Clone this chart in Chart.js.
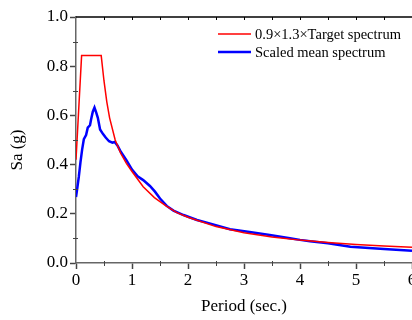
<!DOCTYPE html>
<html>
<head>
<meta charset="utf-8">
<script src="https://cdn.jsdelivr.net/npm/chart.js@4"></script>
<style>
    body { margin: 0; background: #fff; overflow: hidden; }
    #wrap { width: 412px; height: 320px; position: relative; }
</style>
</head>
<body>
<div id="wrap"><canvas id="specChart"></canvas></div>
<script>
// Дані
const targetPeriods = [0, 0.1, 0.45, 0.5, 0.55, 0.6, 0.7, 0.8, 0.9, 1.0, 1.2, 1.4, 1.6, 1.8, 2.0, 2.5, 3.0, 3.5, 4.0, 4.5, 5.0, 5.5, 6.0];
const targetSa = [0.42, 0.843, 0.843, 0.74, 0.655, 0.59, 0.5, 0.445, 0.405, 0.372, 0.31, 0.266, 0.233, 0.205, 0.186, 0.148, 0.123, 0.106, 0.093, 0.083, 0.075, 0.069, 0.064];

const meanPeriods = [0, 0.02, 0.05, 0.08, 0.11, 0.14, 0.18, 0.21, 0.25, 0.27, 0.3, 0.33, 0.36, 0.39, 0.43, 0.48, 0.53, 0.59, 0.65, 0.69, 0.74, 0.8, 0.9, 1.0, 1.1, 1.2, 1.32, 1.41, 1.5, 1.62, 1.74, 1.92, 2.16, 2.4, 2.75, 3.1, 3.46, 3.82, 4.0, 4.18, 4.5, 4.9, 5.5, 6.0];
const meanSa = [0.268, 0.3, 0.35, 0.41, 0.462, 0.503, 0.52, 0.55, 0.56, 0.584, 0.615, 0.632, 0.612, 0.59, 0.543, 0.525, 0.51, 0.495, 0.489, 0.492, 0.478, 0.452, 0.418, 0.38, 0.352, 0.337, 0.313, 0.29, 0.262, 0.232, 0.213, 0.195, 0.175, 0.16, 0.137, 0.126, 0.114, 0.101, 0.094, 0.088, 0.08, 0.066, 0.057, 0.05];

const seriesLabels = ['0.9×1.3×Target spectrum', 'Scaled mean spectrum'];
const xTicks = [0, 1, 2, 3, 4, 5, 6];
const yTicks = [0, 0.2, 0.4, 0.6, 0.8, 1.0];
const xTitle = 'Period (sec.)';
const yTitle = 'Sa (g)';

const FONT = "'Liberation Serif', 'Times New Roman', serif";

function toPoints(xs, ys) {
    return xs.map((x, i) => ({ x: x, y: ys[i] }));
}

// Рамка, дрібні поділки, легенда і підпис осі Y
const framePlugin = {
    id: 'frame',
    afterDraw(chart) {
        const { ctx, chartArea: a, scales: { x, y } } = chart;
        ctx.save();
        // верхня лінія рамки
        ctx.strokeStyle = '#000';
        ctx.lineWidth = 1.5;
        ctx.beginPath();
        ctx.moveTo(a.left, a.top);
        ctx.lineTo(a.right + 2, a.top);
        ctx.stroke();
        ctx.lineWidth = 1;
        ctx.beginPath();
        for (let v = 0.5; v < 6; v += 0.5) {
            const px = Math.round(x.getPixelForValue(v)) + 0.5;
            ctx.moveTo(px, a.top);
            ctx.lineTo(px, a.top + 3);
        }
        ctx.stroke();
        // дрібні поділки
        ctx.strokeStyle = '#444';
        ctx.beginPath();
        for (let v = 0.1; v < 1; v += 0.2) {
            const py = Math.round(y.getPixelForValue(v)) + 0.5;
            ctx.moveTo(a.left - 3, py);
            ctx.lineTo(a.left + 2, py);
        }
        for (let v = 0.5; v < 6; v += 1) {
            const px = Math.round(x.getPixelForValue(v)) + 0.5;
            ctx.moveTo(px, a.bottom - 2);
            ctx.lineTo(px, a.bottom + 3);
        }
        ctx.stroke();
        // легенда
        ctx.font = '14.5px ' + FONT;
        ctx.textBaseline = 'middle';
        ctx.fillStyle = '#000';
        chart.data.datasets.forEach((ds, i) => {
            const ly = 34 + i * 18;
            ctx.strokeStyle = ds.borderColor;
            ctx.lineWidth = ds.borderWidth;
            ctx.beginPath();
            ctx.moveTo(218, ly);
            ctx.lineTo(251, ly);
            ctx.stroke();
            ctx.fillText(ds.label, 255, ly + 1);
        });
        // підпис осі Y
        ctx.font = '17px ' + FONT;
        ctx.textAlign = 'center';
        ctx.translate(18, 150);
        ctx.rotate(-Math.PI / 2);
        ctx.fillText(yTitle, 0, 0);
        ctx.restore();
    }
};

const ctx = document.getElementById('specChart').getContext('2d');
const chart = new Chart(ctx, {
    type: 'line',
    data: {
        datasets: [{
            label: seriesLabels[0],
            data: toPoints(targetPeriods, targetSa),
            borderColor: '#ff0000',
            borderWidth: 1.5,
            pointRadius: 0,
            tension: 0
        }, {
            label: seriesLabels[1],
            data: toPoints(meanPeriods, meanSa),
            borderColor: '#0000ff',
            borderWidth: 2.5,
            pointRadius: 0,
            tension: 0
        }]
    },
    options: {
        responsive: true,
        maintainAspectRatio: false,
        animation: false,
        layout: { padding: { top: 17, right: 0, left: 0, bottom: 0 } },
        scales: {
            x: {
                type: 'linear',
                min: 0, max: 6,
                afterFit: s => { s.height = 57; s.paddingRight = 0; },
                afterBuildTicks: s => { s.ticks = xTicks.map(v => ({ value: v })); },
                grid: { drawOnChartArea: false, tickLength: 6, tickColor: '#444', tickWidth: 1.5 },
                border: { color: '#666', width: 1.5 },
                ticks: { color: '#000', font: { family: FONT, size: 17 }, padding: 1, maxRotation: 0 },
                title: { display: true, text: xTitle, color: '#000', font: { family: FONT, size: 17 }, padding: { top: 0, bottom: 3 } }
            },
            y: {
                min: 0, max: 1,
                afterFit: s => { s.width = 76; },
                afterBuildTicks: s => { s.ticks = yTicks.map(v => ({ value: v })); },
                grid: { drawOnChartArea: false, tickLength: 6, tickColor: '#444', tickWidth: 1.5 },
                border: { color: '#666', width: 1.5 },
                ticks: { color: '#000', font: { family: FONT, size: 17 }, padding: 2, callback: v => v.toFixed(1) }
            }
        },
        plugins: { legend: { display: false }, tooltip: { enabled: false } }
    },
    plugins: [framePlugin]
});
</script>
</body>
</html>
